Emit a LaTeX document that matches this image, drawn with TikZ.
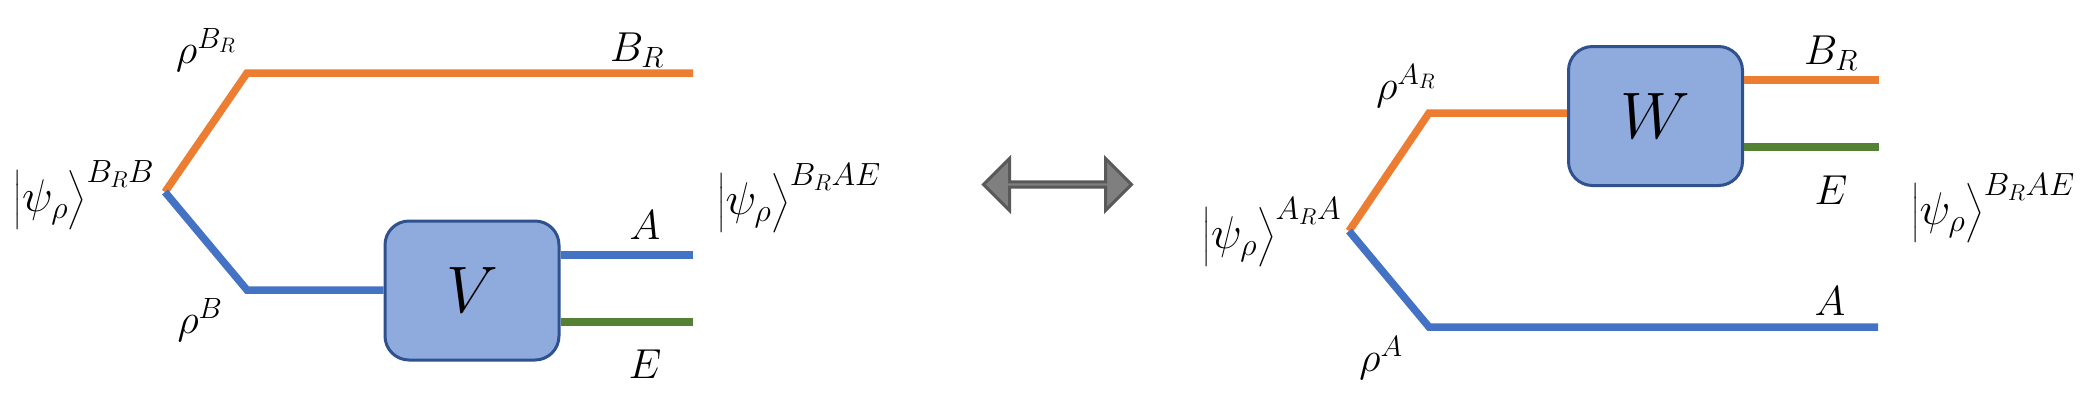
\RequirePackage{fix-cm}
\documentclass[tikz,border=0pt]{standalone}
\usepackage{amsmath}
\usetikzlibrary{shapes.arrows}
\definecolor{qorange}{HTML}{ED7D31}
\definecolor{qblue}{HTML}{4472C4}
\definecolor{qgreen}{HTML}{548235}
\definecolor{boxfill}{HTML}{8FAADC}
\definecolor{boxdraw}{HTML}{2F528F}
\definecolor{arrfill}{HTML}{7F7F7F}
\definecolor{arrdraw}{HTML}{595959}
\tikzset{
  wire/.style={line width=7.5bp},
  gate/.style={draw=boxdraw, fill=boxfill, line width=3bp, rounded corners=24bp,
    minimum width=174bp, minimum height=139bp, inner sep=0pt,
    font=\fontsize{66}{70}\selectfont},
  lbl/.style={inner sep=0pt, font=\fontsize{42}{48}\selectfont},
  ketlbl/.style={inner sep=0pt, font=\fontsize{46}{52}\selectfont},
}
\begin{document}
\begin{tikzpicture}[x=1bp,y=-1bp]
\useasboundingbox (0,0) rectangle (2090,404);
% ---------------- left diagram ----------------
\coordinate (lb) at (165,192);
\coordinate (lo) at (247,73);
\coordinate (lu) at (247,290);
\coordinate (loe) at (693,73);
\node[gate] (V) at (472,290.5) {$V$};
\coordinate (lae) at (693,255);
\coordinate (lee) at (693,322);
\draw[wire, qorange] (lb) -- (lo) -- (loe);
\draw[wire, qblue] (lb) -- (lu) -- (V.west |- lu);
\draw[wire, qblue] (V.east |- lae) -- (lae);
\draw[wire, qgreen] (V.east |- lee) -- (lee);
\node[ketlbl] (lket) at (84,195) {$\bigl|\psi_\rho\bigr\rangle^{B_RB}$};
\node[lbl] (lrbr) at (206,50) {$\rho^{B_R}$};
\node[lbl] (lrb) at (200,320) {$\rho^{B}$};
\node[lbl] (lBR) at (637,50) {$B_R$};
\node[lbl] (lA) at (645,225) {$A$};
\node[lbl] (lE) at (645,364) {$E$};
\node[ketlbl] (lout) at (799,198) {$\bigl|\psi_\rho\bigr\rangle^{B_RAE}$};
% ---------------- double arrow ----------------
\node[double arrow, draw=arrdraw, fill=arrfill, line width=3bp,
  minimum height=148bp, minimum width=52bp, double arrow head extend=13bp,
  double arrow tip angle=90, inner sep=0pt] (eq) at (1057.5,184.5) {};
% ---------------- right diagram ----------------
\coordinate (rb) at (1349,231);
\coordinate (ro) at (1429,113);
\coordinate (ru) at (1429,327);
\coordinate (rue) at (1878,327);
\node[gate] (W) at (1655.5,116) {$W$};
\coordinate (rbe) at (1879,80);
\coordinate (ree) at (1879,147);
\draw[wire, qorange] (rb) -- (ro) -- (W.west |- ro);
\draw[wire, qblue] (rb) -- (ru) -- (rue);
\draw[wire, qorange] (W.east |- rbe) -- (rbe);
\draw[wire, qgreen] (W.east |- ree) -- (ree);
\node[ketlbl] (rket) at (1272,232) {$\bigl|\psi_\rho\bigr\rangle^{A_RA}$};
\node[lbl] (rrar) at (1406,86) {$\rho^{A_R}$};
\node[lbl] (rra) at (1381,358) {$\rho^{A}$};
\node[lbl] (rBR) at (1831,53) {$B_R$};
\node[lbl] (rE) at (1831,190) {$E$};
\node[lbl] (rA) at (1830,301) {$A$};
\node[ketlbl] (rout) at (1993,208) {$\bigl|\psi_\rho\bigr\rangle^{B_RAE}$};
\end{tikzpicture}
\end{document}
